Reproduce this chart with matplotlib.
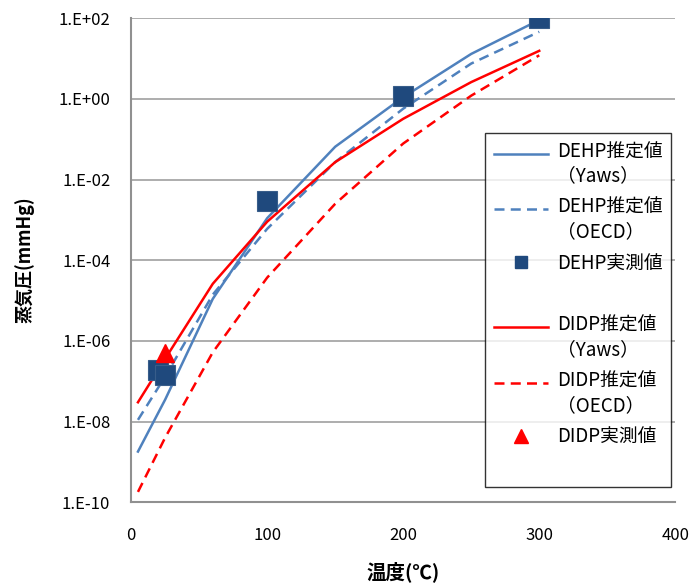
import matplotlib
matplotlib.use("Agg")
import matplotlib.pyplot as plt
import numpy as np
from matplotlib.lines import Line2D
from matplotlib.legend_handler import HandlerLine2D

plt.rcParams["font.family"] = ["Noto Sans CJK JP", "DejaVu Sans"]

# estimated vapour pressure curves (mmHg), temperatures in degC
temp = [5, 25, 60, 100, 150, 200, 250, 300]
dehp_yaws = [1.8e-9, 3.5e-8, 1.1e-5, 1.1e-3, 6.5e-2, 1.1, 13, 90]
dehp_oecd = [1.1e-8, 1.3e-7, 1.4e-5, 6.0e-4, 2.7e-2, 0.57, 7.5, 46]
didp_yaws = [3.0e-8, 3.6e-7, 2.6e-5, 9.0e-4, 2.7e-2, 0.32, 2.6, 15.5]
didp_oecd = [1.8e-10, 4.0e-9, 5.2e-7, 3.7e-5, 2.5e-3, 7.8e-2, 1.2, 12]

# measured values
dehp_meas_t = [20, 25, 100, 200, 300]
dehp_meas_p = [1.9e-7, 1.4e-7, 2.9e-3, 1.15, 100]
didp_meas_t = [25]
didp_meas_p = [5.0e-7]

yticks = [1e-10, 1e-8, 1e-6, 1e-4, 1e-2, 1e0, 1e2]
ytick_labels = ["1.E-10", "1.E-08", "1.E-06", "1.E-04", "1.E-02", "1.E+00", "1.E+02"]
xticks = [0, 100, 200, 300, 400]

blue = "#4F81BD"
navy = "#1F497D"
red = "#FF0000"


class RaisedLine(HandlerLine2D):
    # Excel puts the legend key level with the first text line
    def __init__(self, shift, **kw):
        super().__init__(**kw)
        self.shift = shift

    def create_artists(self, legend, orig_handle, xdescent, ydescent, width,
                       height, fontsize, trans):
        return super().create_artists(legend, orig_handle, xdescent,
                                      ydescent - self.shift, width, height,
                                      fontsize, trans)


fig = plt.figure(figsize=(6.94, 5.86), dpi=100)
ax = fig.add_axes([0.189, 0.143, 0.784, 0.826])

ax.plot(temp, dehp_yaws, color=blue, lw=1.8, zorder=3)
ax.plot(temp, dehp_oecd, color=blue, lw=1.8, dashes=(4, 2.5), zorder=3)
ax.plot(dehp_meas_t, dehp_meas_p, ls="none", marker="s", ms=15, color=navy,
        mec="#385D8A", mew=0.8, zorder=4)
ax.plot(temp, didp_yaws, color=red, lw=1.8, zorder=3)
ax.plot(temp, didp_oecd, color=red, lw=1.8, dashes=(4, 2.5), zorder=3)
ax.plot(didp_meas_t, didp_meas_p, ls="none", marker="^", ms=13, color=red, zorder=5)

ax.set_yscale("log")
ax.set_xlim(0, 400)
ax.set_ylim(1e-10, 1e2)
ax.set_yticks(yticks)
ax.set_yticklabels(ytick_labels)
ax.minorticks_off()
ax.set_xticks(xticks)
ax.tick_params(axis="y", length=0, labelsize=12, pad=15)
ax.tick_params(axis="x", length=0, labelsize=12, pad=18)
ax.yaxis.grid(True, color="#A0A0A0", lw=1.2)
ax.set_axisbelow(True)
for s in ["top", "right"]:
    ax.spines[s].set_visible(False)
for s in ["left", "bottom"]:
    ax.spines[s].set_color("#909090")
    ax.spines[s].set_linewidth(1.5)

ax.set_xlabel("温度(℃)", fontsize=14, fontweight="bold", labelpad=12)
ax.set_ylabel("蒸気圧(mmHg)", fontsize=13, fontweight="bold", labelpad=17)

h_dehp_y = Line2D([], [], color=blue, lw=1.8)
h_dehp_o = Line2D([], [], color=blue, lw=1.8, dashes=(4, 2.5))
h_dehp_m = Line2D([], [], ls="none", marker="s", ms=9, color=navy)
h_blank = Line2D([], [], ls="none")
h_didp_y = Line2D([], [], color=red, lw=1.8)
h_didp_o = Line2D([], [], color=red, lw=1.8, dashes=(4, 2.5))
h_didp_m = Line2D([], [], ls="none", marker="^", ms=10, color=red)
h_blank2 = Line2D([], [], ls="none")

handles = [h_dehp_y, h_dehp_o, h_dehp_m, h_blank,
           h_didp_y, h_didp_o, h_didp_m, h_blank2]
labels = ["DEHP推定値\n（Yaws）", "DEHP推定値\n（OECD）", "DEHP実測値", "",
          "DIDP推定値\n（Yaws）", "DIDP推定値\n（OECD）", "DIDP実測値", ""]
raised = RaisedLine(17)
leg = fig.legend(handles, labels, loc="upper left", bbox_to_anchor=(0.699, 0.773),
                 borderaxespad=0, fontsize=13.5, frameon=True, fancybox=False,
                 edgecolor="black", handlelength=2.9, handletextpad=0.5,
                 labelspacing=0.55, borderpad=0.45,
                 handler_map={h_dehp_y: raised, h_dehp_o: raised,
                              h_didp_y: raised, h_didp_o: raised})
leg.get_frame().set_linewidth(1.0)

fig.savefig("out.png", dpi=100)
